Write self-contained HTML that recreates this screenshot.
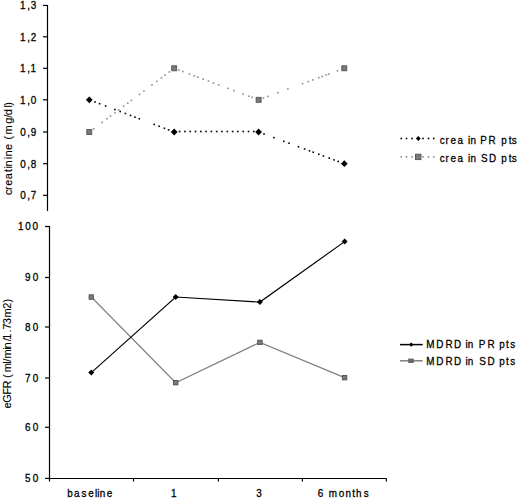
<!DOCTYPE html>
<html><head><meta charset="utf-8"><style>
html,body{margin:0;padding:0;background:#fff;width:520px;height:499px;overflow:hidden}
svg{display:block}
.t{font-family:"Liberation Sans", sans-serif;font-size:11px;font-weight:normal;fill:#000;stroke:#000;stroke-width:0.3px}
.tt{font-family:"Liberation Sans", sans-serif;font-size:11px;fill:#000;stroke:#000;stroke-width:0.1px}
</style></head><body>
<svg width="520" height="499" viewBox="0 0 520 499">
<line x1="47.5" y1="5" x2="47.5" y2="211" stroke="#000" stroke-width="1.2"/>
<line x1="43" y1="5.45" x2="47.5" y2="5.45" stroke="#000" stroke-width="1.2"/>
<text transform="scale(0.9,1)" x="22.29 30.14 34.14" y="9.35" class="t">1,3</text>
<line x1="43" y1="36.80" x2="47.5" y2="36.80" stroke="#000" stroke-width="1.2"/>
<text transform="scale(0.9,1)" x="22.29 30.14 34.11" y="40.70" class="t">1,2</text>
<line x1="43" y1="68.30" x2="47.5" y2="68.30" stroke="#000" stroke-width="1.2"/>
<text transform="scale(0.9,1)" x="22.29 30.14 33.96" y="72.20" class="t">1,1</text>
<line x1="43" y1="99.80" x2="47.5" y2="99.80" stroke="#000" stroke-width="1.2"/>
<text transform="scale(0.9,1)" x="22.29 30.14 34.11" y="103.70" class="t">1,0</text>
<line x1="43" y1="132.00" x2="47.5" y2="132.00" stroke="#000" stroke-width="1.2"/>
<text transform="scale(0.9,1)" x="22.44 30.14 34.11" y="135.90" class="t">0,9</text>
<line x1="43" y1="163.70" x2="47.5" y2="163.70" stroke="#000" stroke-width="1.2"/>
<text transform="scale(0.9,1)" x="22.44 30.14 34.11" y="167.60" class="t">0,8</text>
<line x1="43" y1="195.30" x2="47.5" y2="195.30" stroke="#000" stroke-width="1.2"/>
<text transform="scale(0.9,1)" x="22.44 30.14 34.10" y="199.20" class="t">0,7</text>
<line x1="49.5" y1="226" x2="49.5" y2="479" stroke="#000" stroke-width="1.2"/>
<line x1="49" y1="478.5" x2="386.5" y2="478.5" stroke="#000" stroke-width="1.2"/>
<line x1="45" y1="226.50" x2="49.5" y2="226.50" stroke="#000" stroke-width="1.2"/>
<text transform="scale(0.9,1)" x="20.12 28.05 36.16" y="230.50" class="t">100</text>
<line x1="45" y1="277.50" x2="49.5" y2="277.50" stroke="#000" stroke-width="1.2"/>
<text transform="scale(0.9,1)" x="27.83 36.27" y="281.50" class="t">90</text>
<line x1="45" y1="327.00" x2="49.5" y2="327.00" stroke="#000" stroke-width="1.2"/>
<text transform="scale(0.9,1)" x="27.83 36.27" y="331.00" class="t">80</text>
<line x1="45" y1="378.00" x2="49.5" y2="378.00" stroke="#000" stroke-width="1.2"/>
<text transform="scale(0.9,1)" x="27.82 36.27" y="382.00" class="t">70</text>
<line x1="45" y1="427.30" x2="49.5" y2="427.30" stroke="#000" stroke-width="1.2"/>
<text transform="scale(0.9,1)" x="27.79 36.27" y="431.30" class="t">60</text>
<line x1="45" y1="478.40" x2="49.5" y2="478.40" stroke="#000" stroke-width="1.2"/>
<text transform="scale(0.9,1)" x="27.84 36.27" y="482.40" class="t">50</text>
<line x1="49.50" y1="478.5" x2="49.50" y2="481.5" stroke="#000" stroke-width="1.2"/>
<line x1="133.50" y1="478.5" x2="133.50" y2="481.5" stroke="#000" stroke-width="1.2"/>
<line x1="218.40" y1="478.5" x2="218.40" y2="481.5" stroke="#000" stroke-width="1.2"/>
<line x1="302.40" y1="478.5" x2="302.40" y2="481.5" stroke="#000" stroke-width="1.2"/>
<line x1="386.30" y1="478.5" x2="386.30" y2="481.5" stroke="#000" stroke-width="1.2"/>
<text transform="scale(0.9,1)" x="74.82 82.15 90.57 98.17 105.55 107.95 110.82 118.51" y="496.60" class="t">baseline</text>
<text transform="scale(0.9,1)" x="190.12" y="496.60" class="t">1</text>
<text transform="scale(0.9,1)" x="284.64" y="496.60" class="t">3</text>
<text transform="scale(0.9,1)" x="353.01 362.13 365.42 376.33 383.93 391.43 395.69 404.24" y="496.60" class="t">6 months</text>
<rect x="92.90" y="127.90" width="1.6" height="1.6" fill="#8c8c8c"/>
<rect x="101.20" y="121.67" width="1.6" height="1.6" fill="#8c8c8c"/>
<rect x="106.20" y="117.92" width="1.6" height="1.6" fill="#8c8c8c"/>
<rect x="109.70" y="115.29" width="1.6" height="1.6" fill="#8c8c8c"/>
<rect x="114.20" y="111.92" width="1.6" height="1.6" fill="#8c8c8c"/>
<rect x="117.80" y="109.22" width="1.6" height="1.6" fill="#8c8c8c"/>
<rect x="122.90" y="105.39" width="1.6" height="1.6" fill="#8c8c8c"/>
<rect x="127.00" y="102.31" width="1.6" height="1.6" fill="#8c8c8c"/>
<rect x="130.60" y="99.61" width="1.6" height="1.6" fill="#8c8c8c"/>
<rect x="138.70" y="93.54" width="1.6" height="1.6" fill="#8c8c8c"/>
<rect x="143.10" y="90.23" width="1.6" height="1.6" fill="#8c8c8c"/>
<rect x="151.20" y="84.16" width="1.6" height="1.6" fill="#8c8c8c"/>
<rect x="156.00" y="80.56" width="1.6" height="1.6" fill="#8c8c8c"/>
<rect x="160.70" y="77.03" width="1.6" height="1.6" fill="#8c8c8c"/>
<rect x="164.20" y="74.40" width="1.6" height="1.6" fill="#8c8c8c"/>
<rect x="168.50" y="71.18" width="1.6" height="1.6" fill="#8c8c8c"/>
<rect x="178.10" y="69.25" width="1.6" height="1.6" fill="#8c8c8c"/>
<rect x="182.00" y="70.71" width="1.6" height="1.6" fill="#8c8c8c"/>
<rect x="188.70" y="73.21" width="1.6" height="1.6" fill="#8c8c8c"/>
<rect x="193.40" y="74.96" width="1.6" height="1.6" fill="#8c8c8c"/>
<rect x="197.10" y="76.35" width="1.6" height="1.6" fill="#8c8c8c"/>
<rect x="202.40" y="78.32" width="1.6" height="1.6" fill="#8c8c8c"/>
<rect x="207.70" y="80.30" width="1.6" height="1.6" fill="#8c8c8c"/>
<rect x="212.60" y="82.13" width="1.6" height="1.6" fill="#8c8c8c"/>
<rect x="217.90" y="84.11" width="1.6" height="1.6" fill="#8c8c8c"/>
<rect x="227.10" y="87.54" width="1.6" height="1.6" fill="#8c8c8c"/>
<rect x="233.10" y="89.78" width="1.6" height="1.6" fill="#8c8c8c"/>
<rect x="242.30" y="93.22" width="1.6" height="1.6" fill="#8c8c8c"/>
<rect x="248.10" y="95.38" width="1.6" height="1.6" fill="#8c8c8c"/>
<rect x="251.20" y="96.54" width="1.6" height="1.6" fill="#8c8c8c"/>
<rect x="262.70" y="97.20" width="1.6" height="1.6" fill="#8c8c8c"/>
<rect x="267.10" y="95.58" width="1.6" height="1.6" fill="#8c8c8c"/>
<rect x="277.10" y="91.91" width="1.6" height="1.6" fill="#8c8c8c"/>
<rect x="287.10" y="88.23" width="1.6" height="1.6" fill="#8c8c8c"/>
<rect x="301.80" y="82.83" width="1.6" height="1.6" fill="#8c8c8c"/>
<rect x="307.50" y="80.73" width="1.6" height="1.6" fill="#8c8c8c"/>
<rect x="312.00" y="79.08" width="1.6" height="1.6" fill="#8c8c8c"/>
<rect x="318.00" y="76.87" width="1.6" height="1.6" fill="#8c8c8c"/>
<rect x="321.40" y="75.62" width="1.6" height="1.6" fill="#8c8c8c"/>
<rect x="325.50" y="74.12" width="1.6" height="1.6" fill="#8c8c8c"/>
<rect x="328.00" y="73.20" width="1.6" height="1.6" fill="#8c8c8c"/>
<rect x="336.70" y="70.00" width="1.6" height="1.6" fill="#8c8c8c"/>
<rect x="94.20" y="101.16" width="1.6" height="1.6" fill="#000"/>
<rect x="98.80" y="102.91" width="1.6" height="1.6" fill="#000"/>
<rect x="104.80" y="105.18" width="1.6" height="1.6" fill="#000"/>
<rect x="114.10" y="108.71" width="1.6" height="1.6" fill="#000"/>
<rect x="119.40" y="110.72" width="1.6" height="1.6" fill="#000"/>
<rect x="124.60" y="112.69" width="1.6" height="1.6" fill="#000"/>
<rect x="129.70" y="114.63" width="1.6" height="1.6" fill="#000"/>
<rect x="134.20" y="116.33" width="1.6" height="1.6" fill="#000"/>
<rect x="138.50" y="117.96" width="1.6" height="1.6" fill="#000"/>
<rect x="153.40" y="123.61" width="1.6" height="1.6" fill="#000"/>
<rect x="158.30" y="125.47" width="1.6" height="1.6" fill="#000"/>
<rect x="163.60" y="127.48" width="1.6" height="1.6" fill="#000"/>
<rect x="167.80" y="129.08" width="1.6" height="1.6" fill="#000"/>
<rect x="178.80" y="130.70" width="1.6" height="1.6" fill="#000"/>
<rect x="184.10" y="130.70" width="1.6" height="1.6" fill="#000"/>
<rect x="189.40" y="130.70" width="1.6" height="1.6" fill="#000"/>
<rect x="194.70" y="130.70" width="1.6" height="1.6" fill="#000"/>
<rect x="200.00" y="130.70" width="1.6" height="1.6" fill="#000"/>
<rect x="205.30" y="130.70" width="1.6" height="1.6" fill="#000"/>
<rect x="210.60" y="130.70" width="1.6" height="1.6" fill="#000"/>
<rect x="215.90" y="130.70" width="1.6" height="1.6" fill="#000"/>
<rect x="221.20" y="130.70" width="1.6" height="1.6" fill="#000"/>
<rect x="226.50" y="130.70" width="1.6" height="1.6" fill="#000"/>
<rect x="231.80" y="130.70" width="1.6" height="1.6" fill="#000"/>
<rect x="237.10" y="130.70" width="1.6" height="1.6" fill="#000"/>
<rect x="242.40" y="130.70" width="1.6" height="1.6" fill="#000"/>
<rect x="247.70" y="130.70" width="1.6" height="1.6" fill="#000"/>
<rect x="253.00" y="130.70" width="1.6" height="1.6" fill="#000"/>
<rect x="263.20" y="133.20" width="1.6" height="1.6" fill="#000"/>
<rect x="273.10" y="136.86" width="1.6" height="1.6" fill="#000"/>
<rect x="283.00" y="140.52" width="1.6" height="1.6" fill="#000"/>
<rect x="288.20" y="142.44" width="1.6" height="1.6" fill="#000"/>
<rect x="297.70" y="145.96" width="1.6" height="1.6" fill="#000"/>
<rect x="303.80" y="148.22" width="1.6" height="1.6" fill="#000"/>
<rect x="308.70" y="150.03" width="1.6" height="1.6" fill="#000"/>
<rect x="312.40" y="151.40" width="1.6" height="1.6" fill="#000"/>
<rect x="318.00" y="153.47" width="1.6" height="1.6" fill="#000"/>
<rect x="322.60" y="155.17" width="1.6" height="1.6" fill="#000"/>
<rect x="328.40" y="157.31" width="1.6" height="1.6" fill="#000"/>
<rect x="333.20" y="159.09" width="1.6" height="1.6" fill="#000"/>
<rect x="337.40" y="160.64" width="1.6" height="1.6" fill="#000"/>
<rect x="86.80" y="129.50" width="5.0" height="5.0" fill="#7a7a7a" stroke="#4a4a4a" stroke-width="0.8"/>
<rect x="171.70" y="65.80" width="5.0" height="5.0" fill="#7a7a7a" stroke="#4a4a4a" stroke-width="0.8"/>
<rect x="256.10" y="97.30" width="5.0" height="5.0" fill="#7a7a7a" stroke="#4a4a4a" stroke-width="0.8"/>
<rect x="341.80" y="65.80" width="5.0" height="5.0" fill="#7a7a7a" stroke="#4a4a4a" stroke-width="0.8"/>
<path d="M85.90,99.80L89.30,96.40L92.70,99.80L89.30,103.20Z" fill="#000"/>
<path d="M170.80,132.00L174.20,128.60L177.60,132.00L174.20,135.40Z" fill="#000"/>
<path d="M255.20,132.00L258.60,128.60L262.00,132.00L258.60,135.40Z" fill="#000"/>
<path d="M340.90,163.70L344.30,160.30L347.70,163.70L344.30,167.10Z" fill="#000"/>
<polyline points="91.30,297.03 175.70,382.68 259.90,342.37 344.60,377.64" fill="none" stroke="#808080" stroke-width="1.2"/>
<polyline points="91.30,372.60 175.70,297.03 259.90,302.07 344.60,241.61" fill="none" stroke="#000" stroke-width="1.15"/>
<rect x="89.05" y="294.78" width="4.5" height="4.5" fill="#7a7a7a" stroke="#4a4a4a" stroke-width="0.8"/>
<rect x="173.45" y="380.43" width="4.5" height="4.5" fill="#7a7a7a" stroke="#4a4a4a" stroke-width="0.8"/>
<rect x="257.65" y="340.12" width="4.5" height="4.5" fill="#7a7a7a" stroke="#4a4a4a" stroke-width="0.8"/>
<rect x="342.35" y="375.39" width="4.5" height="4.5" fill="#7a7a7a" stroke="#4a4a4a" stroke-width="0.8"/>
<path d="M88.30,372.60L91.30,369.60L94.30,372.60L91.30,375.60Z" fill="#000"/>
<path d="M172.70,297.03L175.70,294.03L178.70,297.03L175.70,300.03Z" fill="#000"/>
<path d="M256.90,302.07L259.90,299.07L262.90,302.07L259.90,305.07Z" fill="#000"/>
<path d="M341.60,241.61L344.60,238.61L347.60,241.61L344.60,244.61Z" fill="#000"/>
<rect x="400.45" y="137.70" width="1.6" height="1.6" fill="#000"/>
<rect x="405.70" y="137.70" width="1.6" height="1.6" fill="#000"/>
<rect x="411.30" y="137.70" width="1.6" height="1.6" fill="#000"/>
<rect x="422.20" y="137.70" width="1.6" height="1.6" fill="#000"/>
<rect x="427.70" y="137.70" width="1.6" height="1.6" fill="#000"/>
<rect x="432.90" y="137.70" width="1.6" height="1.6" fill="#000"/>
<path d="M415.90,138.50L418.30,136.10L420.70,138.50L418.30,140.90Z" fill="#000"/>
<text transform="scale(0.9,1)" x="488.66 494.89 500.67 508.32 517.44 519.89 522.82 531.94 533.67 542.89 553.83 556.98 565.32 568.52" y="143.60" class="t">crea in PR pts</text>
<rect x="400.45" y="156.10" width="1.6" height="1.6" fill="#8c8c8c"/>
<rect x="405.70" y="156.10" width="1.6" height="1.6" fill="#8c8c8c"/>
<rect x="411.30" y="156.10" width="1.6" height="1.6" fill="#8c8c8c"/>
<rect x="422.20" y="156.10" width="1.6" height="1.6" fill="#8c8c8c"/>
<rect x="427.70" y="156.10" width="1.6" height="1.6" fill="#8c8c8c"/>
<rect x="432.90" y="156.10" width="1.6" height="1.6" fill="#8c8c8c"/>
<rect x="415.45" y="154.15" width="5.5" height="5.5" fill="#7a7a7a" stroke="#4a4a4a" stroke-width="0.8"/>
<text transform="scale(0.9,1)" x="488.66 494.89 500.67 508.32 517.44 519.89 522.82 531.94 534.33 543.28 554.23 556.98 565.32 568.52" y="161.90" class="t">crea in SD pts</text>
<line x1="400" y1="344.6" x2="422.7" y2="344.6" stroke="#000" stroke-width="1.5"/>
<path d="M409.00,344.60L411.20,342.40L413.40,344.60L411.20,346.80Z" fill="#000"/>
<text transform="scale(0.9,1)" x="473.75 484.84 494.94 504.40 515.34 517.23 519.82 528.94 531.95 541.61 552.55 554.82 562.21 567.02" y="348.40" class="t">MDRD in PR pts</text>
<line x1="400" y1="360.8" x2="422.7" y2="360.8" stroke="#808080" stroke-width="1.5"/>
<rect x="408.2" y="358.6" width="5.6" height="4.4" fill="#666666"/>
<text transform="scale(0.9,1)" x="473.75 484.84 494.94 504.40 515.34 517.23 519.82 528.94 532.56 541.78 552.73 554.82 562.21 567.02" y="365.20" class="t">MDRD in SD pts</text>
<g transform="translate(12.0,200) rotate(-90)"><text x="5.01 9.94 14.15 20.66 28.08 31.58 33.53 40.88 43.43 50.10 59.22 60.16 65.57 76.36 82.17 84.86 92.58 94.33" y="0.00" class="tt">creatinine (mg/dl)</text></g>
<g transform="translate(10.9,420) rotate(-90)"><text x="11.50 17.26 25.16 31.63 42.58 41.91 48.57 47.67 56.18 58.37 61.57 70.28 71.63 78.67 80.29 87.47 90.64 95.87 102.47 111.19 117.58" y="0.00" class="tt">eGFR ( ml/min/1.73m2)</text></g>
</svg>
</body></html>
